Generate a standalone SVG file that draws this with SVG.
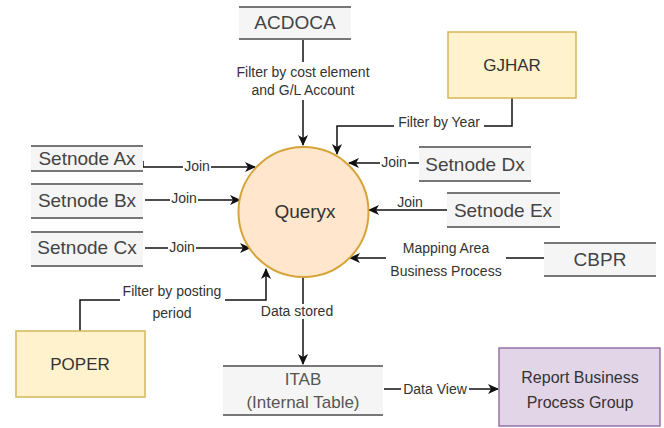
<svg xmlns="http://www.w3.org/2000/svg" width="664" height="428" viewBox="0 0 664 428">
<defs>
<marker id="arr" markerWidth="11" markerHeight="10" refX="10" refY="5" orient="auto" markerUnits="userSpaceOnUse">
<path d="M0,0 L11,5 L0,10 L3,5 z" fill="#111"/>
</marker>
<style>
text{font-family:"Liberation Sans",Arial,sans-serif}
.tbl{fill:#f5f5f5}
.tl{stroke:#777;stroke-width:2}
.tt{font-size:19px;fill:#444;text-anchor:middle}
.ent{fill:#fff2cc;stroke:#d6b656;stroke-width:1.5}
.et{font-size:17px;fill:#333;text-anchor:middle}
.c{fill:none;stroke:#111;stroke-width:1.5}
.lb{font-size:14px;fill:#333;text-anchor:middle}
.bg{fill:#fff}
</style>
</defs>
<rect width="664" height="428" fill="#fff"/>

<g id="connectors">
<path class="c" d="M303,39 V145" marker-end="url(#arr)"/>
<rect class="bg" x="232" y="62" width="142" height="38"/>
<text class="lb" x="303" y="77">Filter by cost element</text>
<text class="lb" x="303" y="95">and G/L Account</text>

<path class="c" d="M512,98 V126 H337 V154" marker-end="url(#arr)"/>
<rect class="bg" x="394" y="116" width="90" height="14"/>
<text class="lb" x="439" y="127">Filter by Year</text>

<path class="c" d="M143,161 V167 H255" marker-end="url(#arr)"/>
<rect class="bg" x="183" y="160" width="28" height="12"/>
<text class="lb" x="197" y="171">Join</text>

<path class="c" d="M145,200 H240" marker-end="url(#arr)"/>
<rect class="bg" x="170" y="192" width="28" height="12"/>
<text class="lb" x="184" y="203">Join</text>

<path class="c" d="M145,248 H250" marker-end="url(#arr)"/>
<rect class="bg" x="168" y="241" width="28" height="12"/>
<text class="lb" x="182" y="252">Join</text>

<path class="c" d="M419,163 H349" marker-end="url(#arr)"/>
<rect class="bg" x="380" y="156" width="28" height="12"/>
<text class="lb" x="394" y="167">Join</text>

<path class="c" d="M447,210 H369" marker-end="url(#arr)"/>
<rect class="bg" x="396" y="196" width="28" height="12"/>
<text class="lb" x="410" y="207">Join</text>

<path class="c" d="M544,258 H350" marker-end="url(#arr)"/>
<rect class="bg" x="386" y="238" width="120" height="40"/>
<text class="lb" x="446" y="253">Mapping Area</text>
<text class="lb" x="446" y="276">Business Process</text>

<path class="c" d="M80,331 V300 H266 V269" marker-end="url(#arr)"/>
<rect class="bg" x="120" y="283" width="105" height="38"/>
<text class="lb" x="172" y="296">Filter by posting</text>
<text class="lb" x="172" y="318">period</text>

<path class="c" d="M303,277 V364" marker-end="url(#arr)"/>
<rect class="bg" x="258" y="304" width="78" height="15"/>
<text class="lb" x="297" y="316">Data stored</text>

<path class="c" d="M384,389 H498" marker-end="url(#arr)"/>
<rect class="bg" x="401" y="382" width="68" height="14"/>
<text class="lb" x="435" y="394">Data View</text>
</g>

<g id="queryx">
<circle cx="303.5" cy="212" r="65" fill="#ffe6cc" stroke="#d6a43a" stroke-width="2"/>
<text x="305" y="218" font-size="19" fill="#333" text-anchor="middle">Queryx</text>
</g>

<g id="acdoca">
<rect class="tbl" x="239" y="7" width="112" height="32"/>
<line class="tl" x1="239" y1="7" x2="351" y2="7"/>
<line class="tl" x1="239" y1="39" x2="351" y2="39"/>
<text class="tt" x="295" y="29">ACDOCA</text>
</g>

<g id="gjhar">
<rect class="ent" x="448" y="32" width="128" height="66"/>
<text class="et" x="512" y="71">GJHAR</text>
</g>

<g id="setnode-a">
<rect class="tbl" x="31" y="146" width="112" height="25"/>
<line class="tl" x1="31" y1="146" x2="143" y2="146"/>
<line class="tl" x1="31" y1="171" x2="143" y2="171"/>
<text class="tt" x="87" y="165">Setnode Ax</text>
</g>

<g id="setnode-b">
<rect class="tbl" x="31" y="184" width="112" height="34"/>
<line class="tl" x1="31" y1="184" x2="143" y2="184"/>
<line class="tl" x1="31" y1="218" x2="143" y2="218"/>
<text class="tt" x="87" y="207">Setnode Bx</text>
</g>

<g id="setnode-c">
<rect class="tbl" x="31" y="232" width="112" height="34"/>
<line class="tl" x1="31" y1="232" x2="143" y2="232"/>
<line class="tl" x1="31" y1="266" x2="143" y2="266"/>
<text class="tt" x="87" y="254">Setnode Cx</text>
</g>

<g id="setnode-d">
<rect class="tbl" x="419" y="147" width="112" height="34"/>
<line class="tl" x1="419" y1="147" x2="531" y2="147"/>
<line class="tl" x1="419" y1="181" x2="531" y2="181"/>
<text class="tt" x="475" y="171">Setnode Dx</text>
</g>

<g id="setnode-e">
<rect class="tbl" x="447" y="193" width="113" height="34"/>
<line class="tl" x1="447" y1="193" x2="560" y2="193"/>
<line class="tl" x1="447" y1="227" x2="560" y2="227"/>
<text class="tt" x="503" y="217">Setnode Ex</text>
</g>

<g id="cbpr">
<rect class="tbl" x="544" y="243" width="112" height="33"/>
<line class="tl" x1="544" y1="243" x2="656" y2="243"/>
<line class="tl" x1="544" y1="276" x2="656" y2="276"/>
<text class="tt" x="600" y="266">CBPR</text>
</g>

<g id="poper">
<rect class="ent" x="16" y="331" width="129" height="66"/>
<text class="et" x="80" y="370">POPER</text>
</g>

<g id="itab">
<rect class="tbl" x="223" y="366" width="160" height="49"/>
<line class="tl" x1="223" y1="366" x2="383" y2="366"/>
<line class="tl" x1="223" y1="415" x2="383" y2="415"/>
<text x="303" y="385" font-size="17" fill="#555" text-anchor="middle">ITAB</text>
<text x="303" y="408" font-size="17" fill="#555" text-anchor="middle">(Internal Table)</text>
</g>

<g id="report">
<rect x="499" y="348" width="161" height="78" fill="#e1d5e7" stroke="#9673a6" stroke-width="1.5"/>
<text x="580" y="383" font-size="16" fill="#333" text-anchor="middle">Report Business</text>
<text x="580" y="408" font-size="16" fill="#333" text-anchor="middle">Process Group</text>
</g>
</svg>
